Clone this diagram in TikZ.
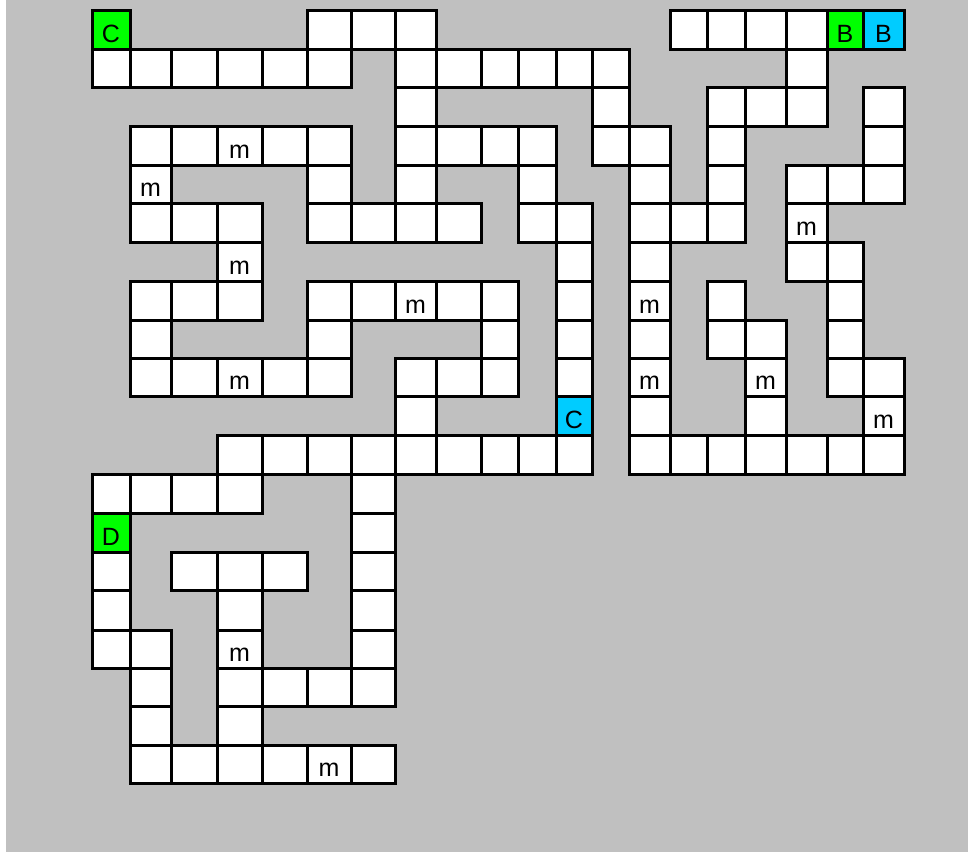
\documentclass[tikz,border=0pt]{standalone}
\usepackage{fontspec}
\setmainfont{Liberation Sans}
\usepackage{xcolor}
\usepackage{tikz}

\definecolor{mazegrey}{RGB}{192,192,192}
\definecolor{startgreen}{RGB}{0,255,0}
\definecolor{goalcyan}{RGB}{0,204,255}

% grid lines (pixels, y downward)
\def\colx{{92,130,171,217,262,307,351,395,436,481,518,556,592,629,670,707,745,786,827,863,904}}
\def\rowy{{10.7,49.3,87.3,126.7,165.7,203.3,242.3,281.7,320,358.3,396.7,435.7,474.5,513.3,552.3,590.7,630,668.3,706.7,745.7,783.3}}

\begin{document}
\begin{tikzpicture}[x=1pt, y=-1pt,
    cellbox/.style={draw=black, line width=3pt, fill=white},
    letter/.style={font=\fontsize{25}{25}\selectfont, anchor=base, inner sep=0pt}]
    % 1. Nền
    \useasboundingbox (0,0) rectangle (968,852);
    \fill[mazegrey] (6,0) rectangle (968,852);

    % 2. Các ô trắng, theo từng hàng
    \foreach \r/\cols in {0/{5,6,7,14,15,16,17},
                          1/{0,1,2,3,4,5,7,8,9,10,11,12,17},
                          2/{7,12,15,16,17,19},
                          3/{1,2,3,4,5,7,8,9,10,12,13,15,19},
                          4/{1,5,7,10,13,15,17,18,19},
                          5/{1,2,3,5,6,7,8,10,11,13,14,15,17},
                          6/{3,11,13,17,18},
                          7/{1,2,3,5,6,7,8,9,11,13,15,18},
                          8/{1,5,9,11,13,15,16,18},
                          9/{1,2,3,4,5,7,8,9,11,13,16,18,19},
                          10/{7,13,16,19},
                          11/{3,4,5,6,7,8,9,10,11,13,14,15,16,17,18,19},
                          12/{0,1,2,3,6},
                          13/{6},
                          14/{0,2,3,4,6},
                          15/{0,3,6},
                          16/{0,1,3,6},
                          17/{1,3,4,5,6},
                          18/{1,3},
                          19/{1,2,3,4,5,6}} {
        \foreach \c in \cols {
            \pgfmathsetmacro\xa{\colx[\c]}
            \pgfmathsetmacro\xb{\colx[\c+1]}
            \pgfmathsetmacro\ya{\rowy[\r]}
            \pgfmathsetmacro\yb{\rowy[\r+1]}
            \draw[cellbox] (\xa,\ya) rectangle (\xb,\yb);
        }
    }

    % 3. Ô màu có chữ
    \foreach \r/\c/\col/\txt in {0/0/startgreen/C, 0/18/startgreen/B, 0/19/goalcyan/B,
                                 10/11/goalcyan/C, 13/0/startgreen/D} {
        \pgfmathsetmacro\xa{\colx[\c]}
        \pgfmathsetmacro\xb{\colx[\c+1]}
        \pgfmathsetmacro\ya{\rowy[\r]}
        \pgfmathsetmacro\yb{\rowy[\r+1]}
        \draw[cellbox, fill=\col] (\xa,\ya) rectangle (\xb,\yb);
        \node[letter] (key-\r-\c) at ({(\xa+\xb)/2},{\yb-7}) {\txt};
    }

    % 4. Các chữ m
    \foreach \r/\c in {3/3, 4/1, 5/17, 6/3, 7/7, 7/13, 9/3, 9/13, 9/16, 10/19, 16/3, 19/5} {
        \pgfmathsetmacro\xa{\colx[\c]}
        \pgfmathsetmacro\xb{\colx[\c+1]}
        \pgfmathsetmacro\yb{\rowy[\r+1]}
        \node[letter] (m-\r-\c) at ({(\xa+\xb)/2},{\yb-7}) {m};
    }
\end{tikzpicture}
\end{document}
